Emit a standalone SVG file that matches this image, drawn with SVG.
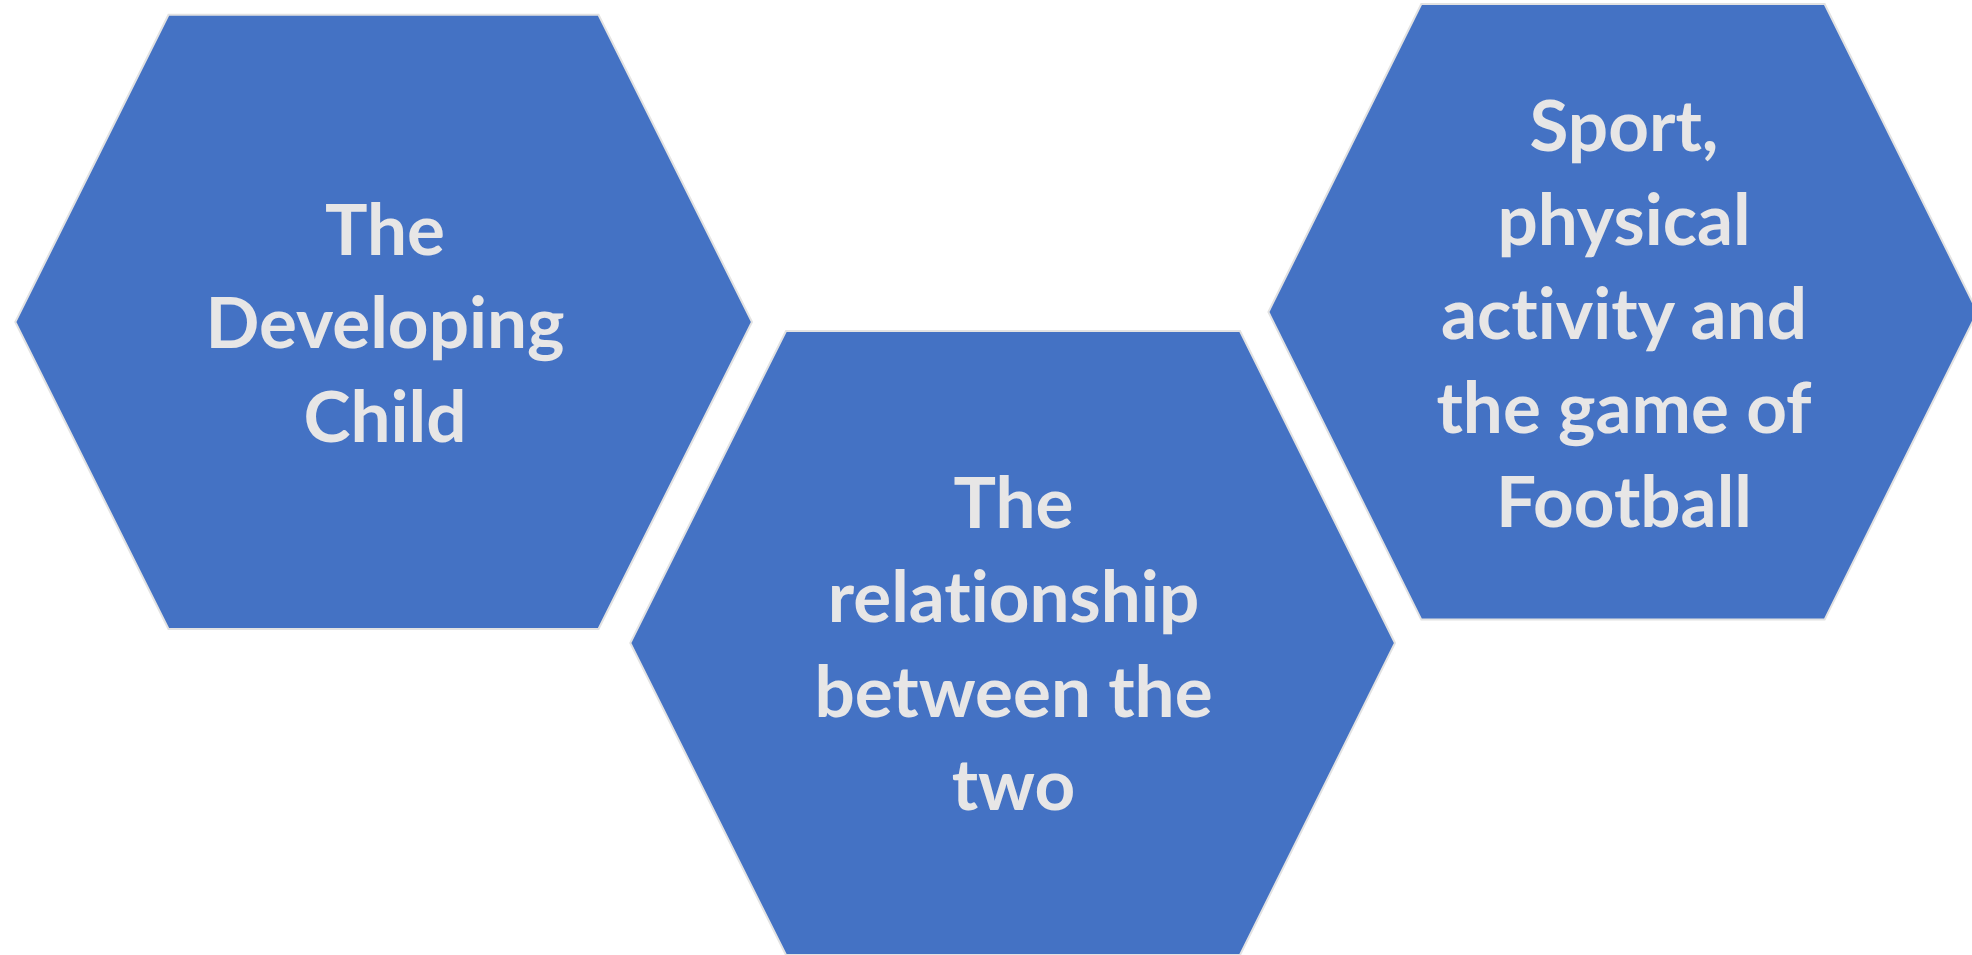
<svg xmlns="http://www.w3.org/2000/svg" width="1972" height="955" viewBox="0 0 1972 955">
  <style>
    .hex { fill: #4472C4; stroke: #E2E2E2; stroke-width: 2; stroke-linejoin: miter; }
    .label { font-family: Lato, "Liberation Sans", sans-serif; font-weight: bold; font-size: 71px; fill: #E7E6E6; text-anchor: middle; font-variant-ligatures: none; font-feature-settings: "liga" 0, "dlig" 0; }
  </style>
  <rect width="1972" height="955" fill="#FFFFFF"/>

  <g id="node-developing-child">
    <polygon class="hex" points="168.5,14.7 598.5,14.7 752,322 598.5,629 168.5,629 15.3,322"/>
    <text class="label" x="385" y="254.6">The</text>
    <text class="label" x="385" y="347.6">Developing</text>
    <text class="label" x="385" y="441.9">Child</text>
  </g>

  <g id="node-relationship">
    <polygon class="hex" points="786,331 1240,331 1395,643 1240,955 786,955 630.3,643"/>
    <text class="label" x="1013.5" y="528.2">The</text>
    <text class="label" x="1013.5" y="622.4">relationship</text>
    <text class="label" x="1013.5" y="716.5">between the</text>
    <text class="label" x="1013.5" y="809.8">two</text>
  </g>

  <g id="node-sport">
    <polygon class="hex" points="1421.3,4.1 1824.6,4.1 1977.5,312 1824.6,619.6 1421.3,619.6 1268.4,312"/>
    <text class="label" x="1624" y="151">Sport,</text>
    <text class="label" x="1624" y="244.9">physical</text>
    <text class="label" x="1624" y="338.8">activity and</text>
    <text class="label" x="1624" y="432.7">the game of</text>
    <text class="label" x="1624" y="526.5">Football</text>
  </g>

  <g id="connectors"></g>
</svg>
